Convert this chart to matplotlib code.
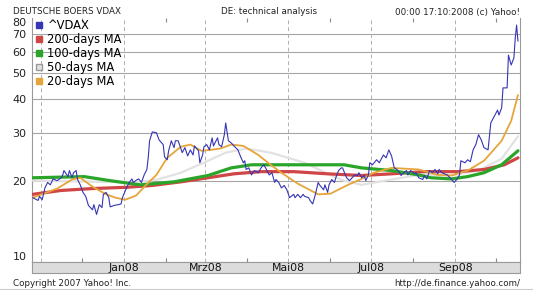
import pandas as pd
import matplotlib
matplotlib.use('Agg')
import matplotlib.pyplot as plt
from matplotlib.lines import Line2D

# ^VDAX closes
vdax_dates = [
    '2007-10-26', '2007-10-30', '2007-10-31', '2007-11-02', '2007-11-04', '2007-11-06', '2007-11-08',
    '2007-11-10', '2007-11-13', '2007-11-16', '2007-11-17', '2007-11-18', '2007-11-21', '2007-11-22',
    '2007-11-24', '2007-11-25', '2007-11-27', '2007-11-28', '2007-11-30', '2007-12-02', '2007-12-04',
    '2007-12-06', '2007-12-09', '2007-12-10', '2007-12-12', '2007-12-14', '2007-12-16', '2007-12-17',
    '2007-12-19', '2007-12-21', '2007-12-22', '2007-12-25', '2007-12-28', '2007-12-30', '2007-12-31',
    '2008-01-03', '2008-01-05', '2008-01-07', '2008-01-08', '2008-01-11', '2008-01-12', '2008-01-14',
    '2008-01-16', '2008-01-18', '2008-01-19', '2008-01-20', '2008-01-22', '2008-01-25', '2008-01-27',
    '2008-01-30', '2008-01-31', '2008-02-02', '2008-02-03', '2008-02-05', '2008-02-07', '2008-02-08',
    '2008-02-10', '2008-02-11', '2008-02-13', '2008-02-15', '2008-02-17', '2008-02-19', '2008-02-21',
    '2008-02-22', '2008-02-25', '2008-02-26', '2008-02-28', '2008-02-29', '2008-03-02', '2008-03-04',
    '2008-03-06', '2008-03-07', '2008-03-10', '2008-03-11', '2008-03-13', '2008-03-15', '2008-03-16',
    '2008-03-18', '2008-03-20', '2008-03-22', '2008-03-25', '2008-03-27', '2008-03-29', '2008-03-30',
    '2008-03-31', '2008-04-02', '2008-04-04', '2008-04-06', '2008-04-09', '2008-04-11', '2008-04-13',
    '2008-04-15', '2008-04-17', '2008-04-19', '2008-04-21', '2008-04-22', '2008-04-24', '2008-04-26',
    '2008-04-28', '2008-04-30', '2008-05-02', '2008-05-05', '2008-05-06', '2008-05-08', '2008-05-10',
    '2008-05-12', '2008-05-13', '2008-05-16', '2008-05-17', '2008-05-19', '2008-05-21', '2008-05-23',
    '2008-05-24', '2008-05-27', '2008-05-28', '2008-05-30', '2008-05-31', '2008-06-02', '2008-06-04',
    '2008-06-05', '2008-06-07', '2008-06-09', '2008-06-10', '2008-06-12', '2008-06-13', '2008-06-15',
    '2008-06-17', '2008-06-19', '2008-06-21', '2008-06-22', '2008-06-24', '2008-06-26', '2008-06-27',
    '2008-06-29', '2008-06-30', '2008-07-02', '2008-07-05', '2008-07-07', '2008-07-10', '2008-07-12',
    '2008-07-14', '2008-07-16', '2008-07-18', '2008-07-20', '2008-07-22', '2008-07-23', '2008-07-25',
    '2008-07-27', '2008-07-28', '2008-07-30', '2008-08-02', '2008-08-03', '2008-08-05', '2008-08-08',
    '2008-08-09', '2008-08-11', '2008-08-13', '2008-08-15', '2008-08-17', '2008-08-19', '2008-08-20',
    '2008-08-22', '2008-08-24', '2008-08-26', '2008-08-28', '2008-08-30', '2008-08-31', '2008-09-02',
    '2008-09-04', '2008-09-05', '2008-09-08', '2008-09-10', '2008-09-12', '2008-09-14', '2008-09-16',
    '2008-09-18', '2008-09-20', '2008-09-22', '2008-09-25', '2008-09-27', '2008-09-29', '2008-10-02',
    '2008-10-03', '2008-10-05', '2008-10-06', '2008-10-09', '2008-10-10', '2008-10-12', '2008-10-14',
    '2008-10-15', '2008-10-16', '2008-10-17']
vdax = [
    17.3, 16.9, 17.5, 17.0, 18.8, 19.7, 19.3,
    20.3, 20.0, 20.5, 20.9, 21.8, 20.7, 21.8,
    20.5, 21.4, 21.8, 20.2, 19.3, 18.1, 17.5,
    16.2, 15.6, 16.3, 15.0, 16.3, 15.9, 17.8,
    18.1, 17.3, 16.0, 16.2, 16.3, 16.4, 17.3,
    18.8, 19.7, 20.3, 19.7, 20.2, 20.3, 19.7,
    21.0, 22.0, 24.3, 28.1, 30.3, 30.1, 28.3,
    27.2, 24.5, 23.9, 25.8, 28.1, 26.5, 28.1,
    28.1, 27.2, 25.4, 26.5, 24.7, 26.0, 24.9,
    26.9, 25.8, 23.3, 24.9, 26.7, 27.2, 26.0,
    28.8, 26.9, 28.8, 27.2, 26.7, 29.6, 32.7,
    28.1, 27.6, 26.9, 26.0, 24.5, 23.3, 23.7,
    22.0, 22.3, 21.0, 21.8, 21.4, 22.3, 22.9,
    22.0, 21.0, 21.4, 19.7, 20.2, 19.7, 18.8,
    19.2, 18.5, 17.3, 17.8, 17.3, 17.8, 17.3,
    17.8, 17.5, 17.3, 16.9, 16.4, 17.8, 19.7,
    19.3, 18.5, 19.3, 18.1, 19.3, 20.2, 19.7,
    20.5, 21.8, 22.3, 22.3, 21.0, 20.5, 20.0,
    20.5, 21.0, 20.9, 21.4, 20.5, 20.9, 20.0,
    21.0, 23.3, 22.9, 23.9, 23.3, 24.9, 24.3,
    26.0, 24.7, 22.3, 22.0, 21.4, 20.9, 21.4,
    21.8, 21.0, 21.8, 21.2, 21.4, 20.5, 20.2,
    20.9, 20.3, 21.8, 21.4, 22.0, 21.2, 22.0,
    21.4, 21.2, 21.0, 20.5, 20.0, 19.7, 20.2,
    21.0, 23.7, 23.3, 23.9, 23.5, 26.0, 27.2,
    29.6, 28.3, 26.5, 26.0, 32.7, 34.2, 36.5,
    35.0, 37.2, 44.1, 44.1, 58.3, 53.6, 56.9,
    67.4, 75.3, 65.7]

ma200_dates = ['2007-10-26', '2007-11-16', '2007-12-09', '2008-01-03', '2008-01-22', '2008-02-12',
               '2008-03-03', '2008-03-22', '2008-04-11', '2008-05-05', '2008-05-30', '2008-06-24',
               '2008-07-16', '2008-08-09', '2008-09-03', '2008-09-22', '2008-10-07', '2008-10-17']
ma200 = [17.8, 18.4, 18.7, 18.9, 19.2, 19.8, 20.5, 21.2, 21.6, 21.6, 21.2, 20.9,
         21.2, 21.6, 21.6, 22.0, 22.9, 24.3]

ma100_dates = ['2007-10-26', '2007-12-03', '2007-12-22', '2008-01-13', '2008-02-07', '2008-03-03',
               '2008-03-20', '2008-04-04', '2008-05-10', '2008-06-11', '2008-06-24', '2008-07-16',
               '2008-08-05', '2008-08-14', '2008-08-29', '2008-09-10', '2008-09-22', '2008-10-05',
               '2008-10-17']
ma100 = [20.5, 20.7, 20.0, 19.3, 19.8, 20.9, 22.3, 22.9, 22.9, 22.9, 22.3, 21.8,
         21.0, 20.5, 20.3, 20.7, 21.4, 22.9, 25.8]

ma50_dates = ['2007-10-26', '2007-12-15', '2008-01-08', '2008-01-26', '2008-02-12', '2008-03-03',
              '2008-03-16', '2008-03-31', '2008-04-18', '2008-05-13', '2008-06-01', '2008-06-11',
              '2008-06-24', '2008-07-11', '2008-08-05', '2008-08-29', '2008-09-18', '2008-10-05',
              '2008-10-17']
ma50 = [20.0, 19.8, 19.7, 20.2, 21.4, 23.7, 25.4, 26.3, 25.4, 23.3, 21.0, 20.0,
        19.3, 20.0, 21.0, 20.9, 21.8, 24.1, 29.2]

ma20_dates = ['2007-10-26', '2007-11-13', '2007-11-24', '2007-11-30', '2007-12-09', '2007-12-19',
              '2007-12-26', '2008-01-02', '2008-01-10', '2008-01-17', '2008-01-25', '2008-02-02',
              '2008-02-12', '2008-02-19', '2008-02-27', '2008-03-05', '2008-03-12', '2008-03-20',
              '2008-03-29', '2008-04-09', '2008-04-18', '2008-04-26', '2008-05-08', '2008-05-23',
              '2008-06-01', '2008-06-14', '2008-06-24', '2008-07-03', '2008-07-16', '2008-08-05',
              '2008-08-19', '2008-08-29', '2008-09-10', '2008-09-22', '2008-10-05', '2008-10-12',
              '2008-10-17']
ma20 = [17.3, 18.7, 20.2, 20.5, 19.0, 17.8, 17.3, 17.0, 17.6, 19.2, 21.0, 24.3,
        26.7, 27.2, 25.8, 26.0, 26.3, 27.2, 26.9, 24.9, 22.9, 21.4, 19.5, 17.8,
        17.9, 19.3, 20.3, 21.4, 22.3, 22.0, 21.0, 20.9, 21.8, 23.7, 28.1, 33.3, 41.5]

series = [
    ('^VDAX', vdax_dates, vdax, '#3535b5', 0.8),
    ('200-days MA', ma200_dates, ma200, '#d04545', 2.3),
    ('100-days MA', ma100_dates, ma100, '#2aa52a', 2.3),
    ('50-days MA', ma50_dates, ma50, '#e2e2e2', 1.6),
    ('20-days MA', ma20_dates, ma20, '#e6a53a', 1.3),
]
draw_order = ['50-days MA', '200-days MA', '100-days MA', '20-days MA', '^VDAX']

y_ticks = [10, 20, 30, 40, 50, 60, 70, 80]
month_ticks = ['2007-11-01', '2008-01-01', '2008-03-01', '2008-05-01', '2008-07-01', '2008-09-01']
month_labels = ['', 'Jan08', 'Mrz08', 'Mai08', 'Jul08', 'Sep08']
minor_ticks = ['2007-12-01', '2008-02-01', '2008-04-01', '2008-06-01', '2008-08-01', '2008-10-01']

W, H = 533, 291
fig = plt.figure(figsize=(W / 100, H / 100), dpi=100)
fig.patch.set_facecolor('white')

x0, x1 = pd.Timestamp('2007-10-25 12:00'), pd.Timestamp('2008-10-18 12:00')

ax = fig.add_axes([32 / W, 1 - 262 / H, 488 / W, 244 / H])
ax.set_yscale('log')
ax.set_ylim(10, 80)
ax.set_xlim(x0, x1)

# horizontal grid (the top value sits on the frame edge and has no line)
for v in y_ticks[1:-1]:
    ax.axhline(v, color='#a5a5a5', lw=0.8, zorder=1)
for d in month_ticks:
    ax.axvline(pd.Timestamp(d), color='#b0b0b0', lw=0.7, ls=(0, (4, 3)), zorder=1)

styles = {s[0]: s for s in series}
for name in draw_order:
    _, dates, vals, col, lw = styles[name]
    ax.plot(pd.to_datetime(dates), vals, color=col, lw=lw, zorder=3,
            solid_joinstyle='round', solid_capstyle='round')

ax.yaxis.set_major_locator(matplotlib.ticker.FixedLocator(y_ticks))
ax.yaxis.set_minor_locator(matplotlib.ticker.NullLocator())
ax.set_yticklabels([str(v) for v in y_ticks], fontsize=8, color='#222222')
ax.tick_params(axis='y', length=0, pad=4)
labels = ax.get_yticklabels()
labels[0].set_va('bottom')
labels[-1].set_va('top')

ax.set_xticks(pd.to_datetime(minor_ticks))
ax.set_xticklabels([])
ax.tick_params(axis='x', direction='in', length=3, color='#888888', top=True, bottom=True)
for sp in ax.spines.values():
    sp.set_color('#9a9a9a')
    sp.set_linewidth(0.8)
ax.spines['top'].set_visible(False)

# date band under the plot
band = fig.add_axes([32 / W, 1 - 273 / H, 488 / W, 11 / H])
band.set_facecolor('#dcdcdc')
band.set_xlim(x0, x1)
band.set_ylim(0, 1)
band.set_yticks([])
band.set_xticks([])
for sp in band.spines.values():
    sp.set_color('#9a9a9a')
    sp.set_linewidth(0.8)
for d, lab in zip(month_ticks, month_labels):
    band.text(pd.Timestamp(d), 0.45, lab, ha='center', va='center', fontsize=7.8, color='#111111')

# legend
handles = [Line2D([], [], ls='', marker='s', markersize=4.5, color=s[3],
                  markeredgecolor='#999999' if s[0] == '50-days MA' else s[3]) for s in series]
fig.legend(handles, [s[0] for s in series], loc='upper left',
           bbox_to_anchor=(33 / W, 1 - 18 / H), frameon=False, fontsize=8.3,
           handlelength=0.8, handletextpad=0.35, labelspacing=0.08, borderpad=0.1,
           borderaxespad=0)

# header / footer texts
fig.text(13 / W, 1 - 11 / H, 'DEUTSCHE BOERS VDAX', fontsize=6.3, va='center', color='#222222')
fig.text(269 / W, 1 - 12 / H, 'DE: technical analysis', fontsize=6.3, ha='center', va='center', color='#222222')
fig.text(520 / W, 1 - 12 / H, '00:00 17:10:2008 (c) Yahoo!', fontsize=6.3, ha='right', va='center', color='#222222')
fig.text(13 / W, 1 - 284 / H, 'Copyright 2007 Yahoo! Inc.', fontsize=6.3, va='center', color='#222222')
fig.text(520 / W, 1 - 284 / H, 'http://de.finance.yahoo.com/', fontsize=6.3, ha='right', va='center', color='#222222')
fig.add_artist(Line2D([0, 1], [1 - 289 / H, 1 - 289 / H], color='#cccccc', lw=0.8))

fig.savefig('out.png', dpi=100)
